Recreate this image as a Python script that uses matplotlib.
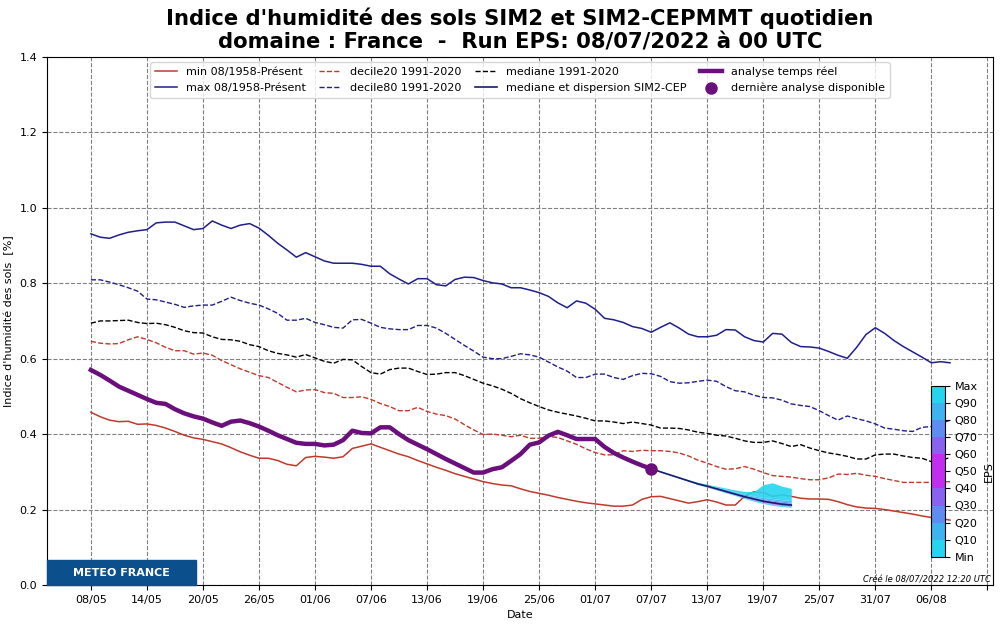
import pandas as pd
import matplotlib.pyplot as plt
import matplotlib.dates as mdates
import matplotlib as mpl
from matplotlib.colors import ListedColormap, BoundaryNorm
from matplotlib.patches import Rectangle

# climatologie journaliere, a partir du 08/05/2022
min_hist = [0.458, 0.446, 0.437, 0.433, 0.434, 0.426, 0.427, 0.423, 0.416, 0.407,
            0.397, 0.390, 0.386, 0.380, 0.374, 0.364, 0.353, 0.344, 0.336, 0.336,
            0.330, 0.320, 0.316, 0.338, 0.341, 0.339, 0.336, 0.340, 0.362, 0.368,
            0.374, 0.365, 0.356, 0.347, 0.340, 0.330, 0.321, 0.312, 0.304, 0.295,
            0.288, 0.281, 0.274, 0.269, 0.265, 0.263, 0.255, 0.248, 0.243, 0.238,
            0.232, 0.227, 0.222, 0.218, 0.215, 0.212, 0.209, 0.209, 0.212, 0.227,
            0.234, 0.235, 0.229, 0.223, 0.217, 0.221, 0.226, 0.220, 0.212, 0.212,
            0.235, 0.247, 0.245, 0.235, 0.239, 0.235, 0.230, 0.228, 0.228, 0.227,
            0.221, 0.213, 0.207, 0.204, 0.203, 0.200, 0.196, 0.192, 0.188, 0.183,
            0.179, 0.176, 0.172]
max_hist = [0.931, 0.922, 0.919, 0.928, 0.935, 0.939, 0.942, 0.960, 0.962, 0.962,
            0.952, 0.942, 0.945, 0.965, 0.954, 0.945, 0.954, 0.958, 0.946, 0.927,
            0.906, 0.888, 0.869, 0.881, 0.870, 0.859, 0.853, 0.853, 0.853, 0.850,
            0.845, 0.845, 0.825, 0.811, 0.798, 0.812, 0.812, 0.796, 0.793, 0.810,
            0.816, 0.815, 0.807, 0.801, 0.798, 0.788, 0.788, 0.782, 0.775, 0.765,
            0.748, 0.735, 0.753, 0.747, 0.731, 0.707, 0.703, 0.696, 0.685, 0.680,
            0.670, 0.683, 0.695, 0.681, 0.665, 0.658, 0.658, 0.662, 0.677, 0.676,
            0.658, 0.648, 0.644, 0.667, 0.665, 0.643, 0.632, 0.631, 0.628, 0.619,
            0.609, 0.601, 0.630, 0.664, 0.682, 0.667, 0.648, 0.632, 0.618, 0.604,
            0.589, 0.592, 0.589]
dec20 = [0.646, 0.641, 0.639, 0.640, 0.650, 0.658, 0.651, 0.642, 0.630, 0.621,
         0.621, 0.612, 0.615, 0.609, 0.595, 0.584, 0.573, 0.564, 0.555, 0.550,
         0.537, 0.524, 0.512, 0.517, 0.518, 0.510, 0.508, 0.497, 0.497, 0.499,
         0.492, 0.481, 0.473, 0.462, 0.462, 0.471, 0.460, 0.453, 0.449, 0.440,
         0.425, 0.411, 0.399, 0.400, 0.397, 0.393, 0.397, 0.389, 0.389, 0.394,
         0.391, 0.382, 0.373, 0.361, 0.351, 0.345, 0.345, 0.356, 0.354, 0.357,
         0.356, 0.356, 0.354, 0.350, 0.342, 0.331, 0.323, 0.314, 0.307, 0.308,
         0.314, 0.307, 0.298, 0.290, 0.288, 0.286, 0.282, 0.279, 0.279, 0.284,
         0.294, 0.293, 0.296, 0.291, 0.288, 0.282, 0.277, 0.272, 0.272, 0.272,
         0.272, 0.273, 0.274]
dec80 = [0.809, 0.809, 0.803, 0.796, 0.788, 0.779, 0.758, 0.756, 0.750, 0.744,
         0.736, 0.740, 0.742, 0.742, 0.752, 0.763, 0.754, 0.747, 0.742, 0.732,
         0.720, 0.702, 0.702, 0.707, 0.696, 0.690, 0.683, 0.681, 0.703, 0.704,
         0.694, 0.683, 0.679, 0.677, 0.677, 0.688, 0.688, 0.681, 0.667, 0.651,
         0.635, 0.620, 0.604, 0.600, 0.600, 0.606, 0.613, 0.610, 0.604, 0.591,
         0.578, 0.567, 0.550, 0.550, 0.559, 0.559, 0.550, 0.545, 0.555, 0.561,
         0.560, 0.553, 0.539, 0.535, 0.536, 0.540, 0.543, 0.540, 0.526, 0.515,
         0.512, 0.503, 0.497, 0.496, 0.490, 0.480, 0.476, 0.473, 0.462, 0.449,
         0.437, 0.448, 0.441, 0.435, 0.427, 0.416, 0.413, 0.409, 0.407, 0.418,
         0.420, 0.428, 0.437]
med_clim = [0.694, 0.700, 0.700, 0.701, 0.702, 0.696, 0.693, 0.694, 0.690, 0.683,
            0.674, 0.669, 0.668, 0.658, 0.651, 0.650, 0.646, 0.637, 0.632, 0.621,
            0.614, 0.610, 0.604, 0.611, 0.602, 0.593, 0.588, 0.598, 0.597, 0.579,
            0.563, 0.559, 0.571, 0.575, 0.575, 0.566, 0.558, 0.559, 0.563, 0.563,
            0.555, 0.545, 0.535, 0.528, 0.519, 0.508, 0.494, 0.483, 0.473, 0.464,
            0.458, 0.453, 0.448, 0.442, 0.435, 0.435, 0.432, 0.428, 0.432, 0.428,
            0.424, 0.416, 0.416, 0.415, 0.411, 0.405, 0.402, 0.397, 0.395, 0.389,
            0.382, 0.378, 0.378, 0.382, 0.375, 0.367, 0.372, 0.363, 0.356, 0.350,
            0.346, 0.341, 0.334, 0.334, 0.345, 0.347, 0.347, 0.342, 0.338, 0.336,
            0.327, 0.330, 0.338]

# analyse temps reel 08/05 -> 07/07
analyse = [0.570, 0.557, 0.542, 0.526, 0.515, 0.504, 0.493, 0.483, 0.480, 0.466,
           0.455, 0.447, 0.441, 0.431, 0.422, 0.433, 0.436, 0.429, 0.420, 0.409,
           0.397, 0.387, 0.377, 0.374, 0.374, 0.370, 0.372, 0.384, 0.409, 0.403,
           0.402, 0.418, 0.418, 0.400, 0.384, 0.372, 0.360, 0.347, 0.334, 0.322,
           0.310, 0.298, 0.298, 0.307, 0.312, 0.329, 0.347, 0.372, 0.378, 0.396,
           0.406, 0.397, 0.387, 0.387, 0.387, 0.366, 0.350, 0.338, 0.327, 0.317,
           0.308]

# prevision EPS 07/07 -> 22/07 (quantiles)
eps_min = [0.308, 0.299, 0.291, 0.283, 0.275, 0.266, 0.259, 0.252, 0.244, 0.237, 0.229, 0.222, 0.216, 0.211, 0.208, 0.206]
eps_q10 = [0.308, 0.299, 0.291, 0.283, 0.275, 0.267, 0.260, 0.253, 0.245, 0.238, 0.231, 0.224, 0.218, 0.213, 0.210, 0.208]
eps_q20 = [0.308, 0.300, 0.291, 0.283, 0.275, 0.267, 0.260, 0.253, 0.246, 0.239, 0.232, 0.225, 0.219, 0.214, 0.211, 0.209]
eps_q30 = [0.308, 0.300, 0.292, 0.284, 0.276, 0.267, 0.261, 0.254, 0.247, 0.240, 0.233, 0.226, 0.220, 0.215, 0.212, 0.210]
eps_q40 = [0.308, 0.300, 0.292, 0.284, 0.276, 0.268, 0.261, 0.254, 0.247, 0.240, 0.233, 0.227, 0.221, 0.216, 0.213, 0.211]
eps_med = [0.308, 0.300, 0.292, 0.284, 0.276, 0.268, 0.262, 0.255, 0.248, 0.241, 0.234, 0.228, 0.222, 0.218, 0.214, 0.212]
eps_q60 = [0.308, 0.300, 0.292, 0.284, 0.277, 0.269, 0.262, 0.256, 0.249, 0.242, 0.235, 0.229, 0.223, 0.219, 0.215, 0.213]
eps_q70 = [0.308, 0.300, 0.292, 0.284, 0.277, 0.269, 0.263, 0.256, 0.250, 0.243, 0.237, 0.231, 0.226, 0.222, 0.219, 0.217]
eps_q80 = [0.308, 0.300, 0.292, 0.285, 0.277, 0.269, 0.264, 0.257, 0.251, 0.245, 0.238, 0.233, 0.228, 0.225, 0.222, 0.220]
eps_q90 = [0.308, 0.300, 0.293, 0.285, 0.278, 0.270, 0.265, 0.259, 0.253, 0.247, 0.241, 0.236, 0.232, 0.229, 0.226, 0.224]
eps_max = [0.308, 0.301, 0.293, 0.286, 0.279, 0.272, 0.267, 0.262, 0.257, 0.252, 0.248, 0.248, 0.266, 0.271, 0.262, 0.256]

eps_labels = ['Min', 'Q10', 'Q20', 'Q30', 'Q40', 'Q50', 'Q60', 'Q70', 'Q80', 'Q90', 'Max']
eps_colors = ['#25d5f0', '#3fb2f0', '#5f8cf0', '#8a62f0', '#c22ef0',
              '#c22ef0', '#8a62f0', '#5f8cf0', '#3fb2f0', '#25d5f0']

dates = pd.date_range('2022-05-08', periods=len(max_hist), freq='D')
dates_an = dates[:len(analyse)]
dates_eps = pd.date_range('2022-07-07', periods=len(eps_med), freq='D')

fig = plt.figure(figsize=(10, 6.25), dpi=100)
ax = fig.add_axes([0.047, 0.064, 0.946, 0.845])

ax.plot(dates, min_hist, color='#c0392b', lw=1.1, label='min 08/1958-Présent')
ax.plot(dates, max_hist, color='#1f1f8c', lw=1.1, label='max 08/1958-Présent')
ax.plot(dates, dec20, color='#c0392b', lw=1.0, ls='--', label='decile20 1991-2020')
ax.plot(dates, dec80, color='#1f1f8c', lw=1.0, ls='--', label='decile80 1991-2020')
ax.plot(dates, med_clim, color='black', lw=1.0, ls='--', label='mediane 1991-2020')

bands = [eps_min, eps_q10, eps_q20, eps_q30, eps_q40, eps_med, eps_q60, eps_q70, eps_q80, eps_q90, eps_max]
for i in range(10):
    ax.fill_between(dates_eps, bands[i], bands[i + 1], color=eps_colors[i], lw=0, alpha=0.9, zorder=3)
ax.plot(dates_eps, eps_med, color='#141e6e', lw=1.2, zorder=4, label='mediane et dispersion SIM2-CEP')

ax.plot(dates_an, analyse, color='#6a0f7c', lw=3.2, zorder=5, label='analyse temps réel')
ax.plot(dates_an[-1], analyse[-1], 'o', color='#6a0f7c', ms=8, zorder=6, ls='none',
        label='dernière analyse disponible')

ax.set_ylim(0, 1.4)
ax.set_xlim(dates[0] - pd.Timedelta(days=4.7), dates[0] + pd.Timedelta(days=96.6))
ticks = pd.date_range('2022-05-08', '2022-08-12', freq='6D')
ax.set_xticks(ticks)
ax.set_xticklabels([t.strftime('%d/%m') for t in ticks[:-1]] + [''])
ax.set_yticks([0.0, 0.2, 0.4, 0.6, 0.8, 1.0, 1.2, 1.4])
ax.tick_params(labelsize=8)
ax.grid(True, ls='--', color='grey', lw=0.8)
ax.set_xlabel('Date', fontsize=8)
ax.set_ylabel("Indice d'humidité des sols  [%]", fontsize=8)

ax.legend(loc='upper center', ncol=4, fontsize=8, columnspacing=1.2, handlelength=2.0)

fig.suptitle("Indice d'humidité des sols SIM2 et SIM2-CEPMMT quotidien\n"
             "domaine : France  -  Run EPS: 08/07/2022 à 00 UTC",
             fontsize=15.2, fontweight='bold', x=0.52, y=0.988, linespacing=1.2)

# logo
ax.add_patch(Rectangle((0, 0), 0.1575, 0.047, transform=ax.transAxes,
                       color='#0b4f8c', zorder=7, clip_on=False))
ax.text(0.079, 0.0235, 'METEO FRANCE', transform=ax.transAxes, color='white',
        fontsize=8, fontweight='bold', ha='center', va='center', zorder=8)

fig.text(0.991, 0.068, 'Créé le 08/07/2022 12:20 UTC', fontsize=6, style='italic', ha='right')

# barre de couleur EPS
cax = fig.add_axes([0.931, 0.109, 0.014, 0.274])
cmap = ListedColormap(eps_colors)
norm = BoundaryNorm(list(range(11)), 10)
cb = mpl.colorbar.ColorbarBase(cax, cmap=cmap, norm=norm, ticks=list(range(11)))
cb.set_ticklabels(eps_labels)
cb.ax.tick_params(labelsize=8)
cb.set_label('EPS', fontsize=8)

fig.savefig('out.png')
